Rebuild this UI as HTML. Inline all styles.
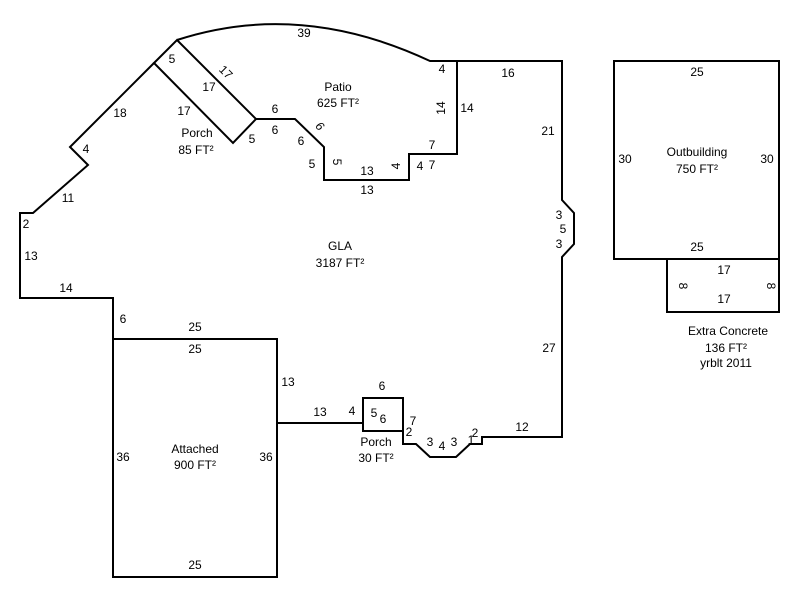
<!DOCTYPE html>
<html><head><meta charset="utf-8"><style>body{margin:0;background:#fff}svg{display:block}text{font-family:"Liberation Sans",Arial,sans-serif;font-size:12px;fill:#000;text-anchor:middle}</style></head><body>
<svg width="800" height="600" viewBox="0 0 800 600" xmlns="http://www.w3.org/2000/svg">
<g fill="none" stroke="#000" stroke-width="2">
<polyline points="154,63 70,147 88,165 33,213 20,213 20,298 113,298 113,339 277,339 277,423 363,423"/>
<polyline points="457,61 562,61 562,200 574,213 574,244 562,257 562,437 482,437 482,444 470,444 456,457 430,457 416,444 403,444 403,398"/>
<polygon points="154,63 177,40 256,119 233,143"/>
<path d="M177,40 Q300,0 430,61 L457,61 L457,154 L409,154 L409,180 L324,180 L324,147 L295,119 L256,119"/>
<rect x="363" y="398" width="40" height="33"/>
<rect x="113" y="339" width="164" height="238"/>
<rect x="614" y="61" width="165" height="198"/>
<rect x="667" y="259" width="112" height="53"/>
</g>
<text x="304" y="37">39</text>
<text x="172" y="63">5</text>
<text x="223" y="75" transform="rotate(45 223 75)">17</text>
<text x="209" y="91">17</text>
<text x="184" y="115">17</text>
<text x="197" y="137">Porch</text>
<text x="196" y="154">85 FT²</text>
<text x="252" y="143">5</text>
<text x="120" y="117">18</text>
<text x="86" y="153">4</text>
<text x="68" y="202">11</text>
<text x="26" y="228">2</text>
<text x="31" y="260">13</text>
<text x="66" y="292">14</text>
<text x="123" y="323">6</text>
<text x="195" y="331">25</text>
<text x="195" y="353">25</text>
<text x="288" y="386">13</text>
<text x="320" y="416">13</text>
<text x="352" y="415">4</text>
<text x="275" y="113">6</text>
<text x="275" y="134">6</text>
<text x="317" y="129" transform="rotate(45 317 129)" font-style="italic">6</text>
<text x="301" y="145">6</text>
<text x="312" y="168">5</text>
<text x="333" y="162" transform="rotate(90 333 162)">5</text>
<text x="367" y="175">13</text>
<text x="367" y="194">13</text>
<text x="400" y="166" transform="rotate(-90 400 166)">4</text>
<text x="420" y="170">4</text>
<text x="432" y="149">7</text>
<text x="432" y="169">7</text>
<text x="442" y="73">4</text>
<text x="445" y="108" transform="rotate(-90 445 108)">14</text>
<text x="467" y="112">14</text>
<text x="508" y="77">16</text>
<text x="338" y="91">Patio</text>
<text x="338" y="107">625 FT²</text>
<text x="548" y="135">21</text>
<text x="559" y="219">3</text>
<text x="563" y="233">5</text>
<text x="559" y="248">3</text>
<text x="340" y="250">GLA</text>
<text x="340" y="267">3187 FT²</text>
<text x="549" y="352">27</text>
<text x="382" y="390">6</text>
<text x="374" y="417">5</text>
<text x="383" y="423">6</text>
<text x="413" y="425">7</text>
<text x="409" y="436">2</text>
<text x="376" y="446">Porch</text>
<text x="376" y="462">30 FT²</text>
<text x="430" y="446">3</text>
<text x="442" y="450">4</text>
<text x="454" y="446">3</text>
<text x="471" y="444">1</text>
<text x="475" y="437">2</text>
<text x="522" y="431">12</text>
<text x="195" y="453">Attached</text>
<text x="195" y="469">900 FT²</text>
<text x="123" y="461">36</text>
<text x="266" y="461">36</text>
<text x="195" y="569">25</text>
<text x="697" y="76">25</text>
<text x="625" y="163">30</text>
<text x="767" y="163">30</text>
<text x="697" y="156">Outbuilding</text>
<text x="697" y="173">750 FT²</text>
<text x="697" y="251">25</text>
<text x="724" y="274">17</text>
<text x="724" y="303">17</text>
<text x="679" y="286" transform="rotate(90 679 286)">8</text>
<text x="767" y="286" transform="rotate(90 767 286)">8</text>
<text x="728" y="335">Extra Concrete</text>
<text x="726" y="352">136 FT²</text>
<text x="726" y="367">yrblt 2011</text>
</svg>
</body></html>
